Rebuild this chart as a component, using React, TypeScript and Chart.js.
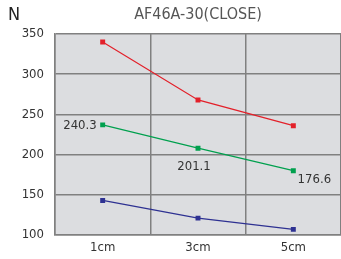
import React, { useEffect, useRef } from "react";
import { Chart, registerables } from "chart.js";
Chart.register(...registerables);

const categories = ["1cm", "3cm", "5cm"];
const redSeries = [340, 268, 236];
const greenSeries = [237, 208, 180];
const blueSeries = [143, 121, 107];
const greenLabels = ["240.3", "201.1", "176.6"];
const yTicks = [100, 150, 200, 250, 300, 350];
const titleText = "AF46A-30(CLOSE)";
const unitText = "N";

const FONT = "'DejaVu Sans Condensed', 'DejaVu Sans', sans-serif";

export default function App() {
  const ref = useRef<HTMLCanvasElement>(null);
  useEffect(() => {
    document.body.style.margin = "0";
    const bgPlugin = {
      id: "bg",
      beforeDraw(chart: any) {
        const { ctx, chartArea: a } = chart;
        ctx.save();
        ctx.fillStyle = "#dcdde0";
        ctx.fillRect(a.left, a.top, a.right - a.left, a.bottom - a.top);
        ctx.restore();
      },
      afterDraw(chart: any) {
        const { ctx, chartArea: a } = chart;
        ctx.save();
        ctx.fillStyle = "#555";
        ctx.font = `16px ${FONT}`;
        ctx.textAlign = "center";
        ctx.textBaseline = "middle";
        ctx.fillText(titleText, (a.left + a.right) / 2, 15);
        ctx.fillStyle = "#222";
        ctx.font = `18px ${FONT}`;
        ctx.textAlign = "left";
        ctx.fillText(unitText, 8, 15);
        const meta = chart.getDatasetMeta(1);
        ctx.fillStyle = "#333";
        ctx.font = `13px ${FONT}`;
        const offs = [
          { dx: -6, dy: 1, align: "right" },
          { dx: -4, dy: 18, align: "center" },
          { dx: 21, dy: 9, align: "center" },
        ];
        meta.data.forEach((pt: any, i: number) => {
          const o = offs[i];
          ctx.textAlign = o.align;
          ctx.fillText(greenLabels[i], pt.x + o.dx, pt.y + o.dy);
        });
        ctx.restore();
      },
    };
    const chart = new Chart(ref.current!, {
      type: "line",
      data: {
        labels: categories,
        datasets: [
          { data: redSeries, borderColor: "#e3202a", backgroundColor: "#e3202a" },
          { data: greenSeries, borderColor: "#00a04e", backgroundColor: "#00a04e" },
          { data: blueSeries, borderColor: "#2e3192", backgroundColor: "#2e3192" },
        ].map((d) => ({
          ...d,
          borderWidth: 1.2,
          pointStyle: "rect",
          pointRadius: 3.5,
          pointHoverRadius: 3.5,
          pointBorderWidth: 0,
        })),
      },
      options: {
        animation: false,
        responsive: false,
        layout: { autoPadding: false, padding: { top: 34, right: 0, left: 0, bottom: 0 } },
        plugins: { legend: { display: false }, tooltip: { enabled: false }, title: { display: false } },
        scales: {
          x: {
            offset: true,
            grid: {
              offset: true,
              color: (c: any) => (c.index === categories.length ? "rgba(0,0,0,0)" : "#808080"),
              lineWidth: 1.5,
              drawTicks: false,
            },
            border: { color: "#808080", width: 1.5 },
            ticks: { color: "#333", font: { family: FONT, size: 13 }, padding: 5 },
            afterFit(s: any) { s.height = 24; },
          },
          y: {
            min: 100,
            max: 350,
            afterBuildTicks(s: any) { s.ticks = yTicks.map((v) => ({ value: v })); },
            grid: { color: "#808080", lineWidth: 1.5, drawTicks: false },
            border: { color: "#808080", width: 1.5 },
            ticks: { color: "#333", font: { family: FONT, size: 13 }, padding: 11 },
            afterFit(s: any) { s.width = 55; },
          },
        },
      },
      plugins: [bgPlugin],
    } as any);
    return () => chart.destroy();
  }, []);
  return <canvas ref={ref} width={341} height={259} style={{ display: "block" }} />;
}
